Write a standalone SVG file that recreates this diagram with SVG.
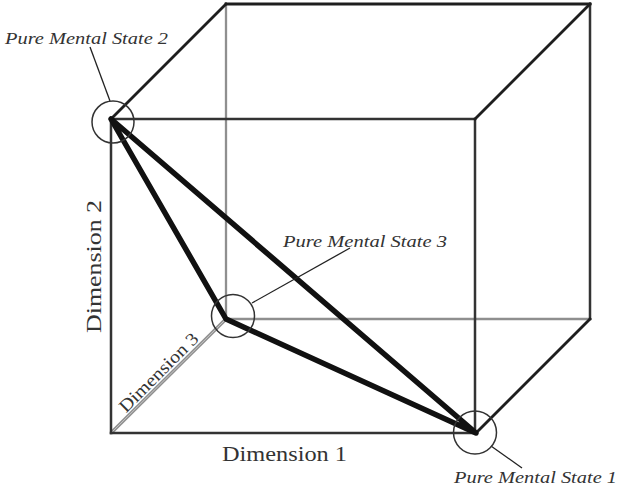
<svg xmlns="http://www.w3.org/2000/svg" width="617" height="494" viewBox="0 0 617 494">
<style>
.edge{stroke:#1e1e1e;stroke-width:2.8;fill:none;stroke-linecap:square}
.front{stroke:#333;stroke-width:2.5;fill:none;stroke-linecap:square}
.back{stroke:#8f8f8f;stroke-width:2.3;fill:none}
.tri{stroke:#111;stroke-width:5.5;fill:none;stroke-linejoin:round;stroke-linecap:round}
.ring{stroke:#333;stroke-width:1.5;fill:none}
.lead{stroke:#222;stroke-width:1.3;fill:none}
.lbl{font-family:"Liberation Serif","Times New Roman",serif;font-style:italic;font-size:17px;fill:#333}
.dim{font-family:"Liberation Serif","Times New Roman",serif;font-size:22px;fill:#333}
</style>
<rect width="617" height="494" fill="#fff"/>
<g id="cube">
<line class="back" x1="226" y1="4" x2="226" y2="319"/>
<line class="back" x1="226" y1="319" x2="590" y2="319"/>
<line x1="111" y1="433" x2="226" y2="319" stroke="#8f8f8f" stroke-width="3.4"/>
<line x1="111" y1="433" x2="226" y2="319" stroke="#c8c8c8" stroke-width="1"/>
<line class="front" x1="111" y1="119" x2="111" y2="433"/>
<line class="front" x1="111" y1="433" x2="476" y2="433"/>
<line class="front" x1="111" y1="119" x2="475" y2="119"/>
<line class="front" x1="475" y1="119" x2="475" y2="433"/>
<line class="edge" x1="226" y1="4" x2="590" y2="4"/>
<line class="front" x1="590" y1="4" x2="590" y2="319"/>
<line class="edge" x1="111" y1="119" x2="226" y2="4"/>
<line class="edge" x1="475" y1="119" x2="590" y2="4"/>
<line class="edge" x1="476" y1="433" x2="590" y2="319"/>
</g>
<g id="connectors">
<path class="tri" d="M111,119 L226,319 L476,433 Z"/>
<line class="lead" x1="90" y1="47" x2="110" y2="101"/>
<line class="lead" x1="252" y1="303" x2="350" y2="248"/>
<line class="lead" x1="491" y1="446" x2="522" y2="468"/>
</g>
<g id="pms2">
<circle class="ring" cx="113" cy="122" r="21"/>
<text class="lbl" x="5" y="44" textLength="163" lengthAdjust="spacingAndGlyphs">Pure Mental State 2</text>
</g>
<g id="pms3">
<circle class="ring" cx="233" cy="316" r="21.5"/>
<text class="lbl" x="283" y="247" textLength="164" lengthAdjust="spacingAndGlyphs">Pure Mental State 3</text>
</g>
<g id="pms1">
<circle class="ring" cx="475" cy="432.5" r="21.5"/>
<text class="lbl" x="454" y="483" textLength="163" lengthAdjust="spacingAndGlyphs">Pure Mental State 1</text>
</g>
<g id="dim1"><text class="dim" x="222" y="461" textLength="125" lengthAdjust="spacingAndGlyphs">Dimension 1</text></g>
<g id="dim2"><text class="dim" transform="translate(101,333) rotate(-90)" x="0" y="0" textLength="133" lengthAdjust="spacingAndGlyphs">Dimension 2</text></g>
<g id="dim3"><text class="dim" style="font-size:18px" transform="translate(126,413.5) rotate(-45)" x="0" y="0" textLength="104" lengthAdjust="spacingAndGlyphs">Dimension 3</text></g>
</svg>
